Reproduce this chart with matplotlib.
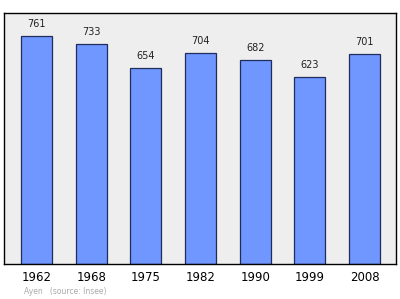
import matplotlib.pyplot as plt

years = ["1962", "1968", "1975", "1982", "1990", "1999", "2008"]
population = [761, 733, 654, 704, 682, 623, 701]

BAR_COLOR = "#7096ff"
EDGE_COLOR = "#1f2d5c"
BG_COLOR = "#eeeeee"

fig = plt.figure(figsize=(4.0, 2.99), dpi=100)
ax = fig.add_axes([0.01, 0.117, 0.98, 0.8395])
ax.set_facecolor(BG_COLOR)

x = list(range(len(years)))
ax.bar(x, population, width=0.567, color=BAR_COLOR, edgecolor=EDGE_COLOR, linewidth=0.9, zorder=2)

for xi, v in zip(x, population):
    ax.annotate(str(v), (xi, v), xytext=(0, 5), textcoords="offset points",
                ha="center", va="bottom", fontsize=7, color="#222222")

ax.set_xlim(-0.594, 6.576)
ax.set_ylim(0, max(population) * 1.1)
ax.set_xticks(x)
ax.set_xticklabels(years, fontsize=8.5)
ax.set_yticks([])
ax.tick_params(axis="x", length=0, pad=5)
for s in ax.spines.values():
    s.set_color("black")
    s.set_linewidth(1.0)

fig.text(0.06, 0.024, "Ayen   (source: Insee)", fontsize=5.5, color="#aaaaaa", ha="left", va="center")

fig.savefig("out.png", dpi=100)
